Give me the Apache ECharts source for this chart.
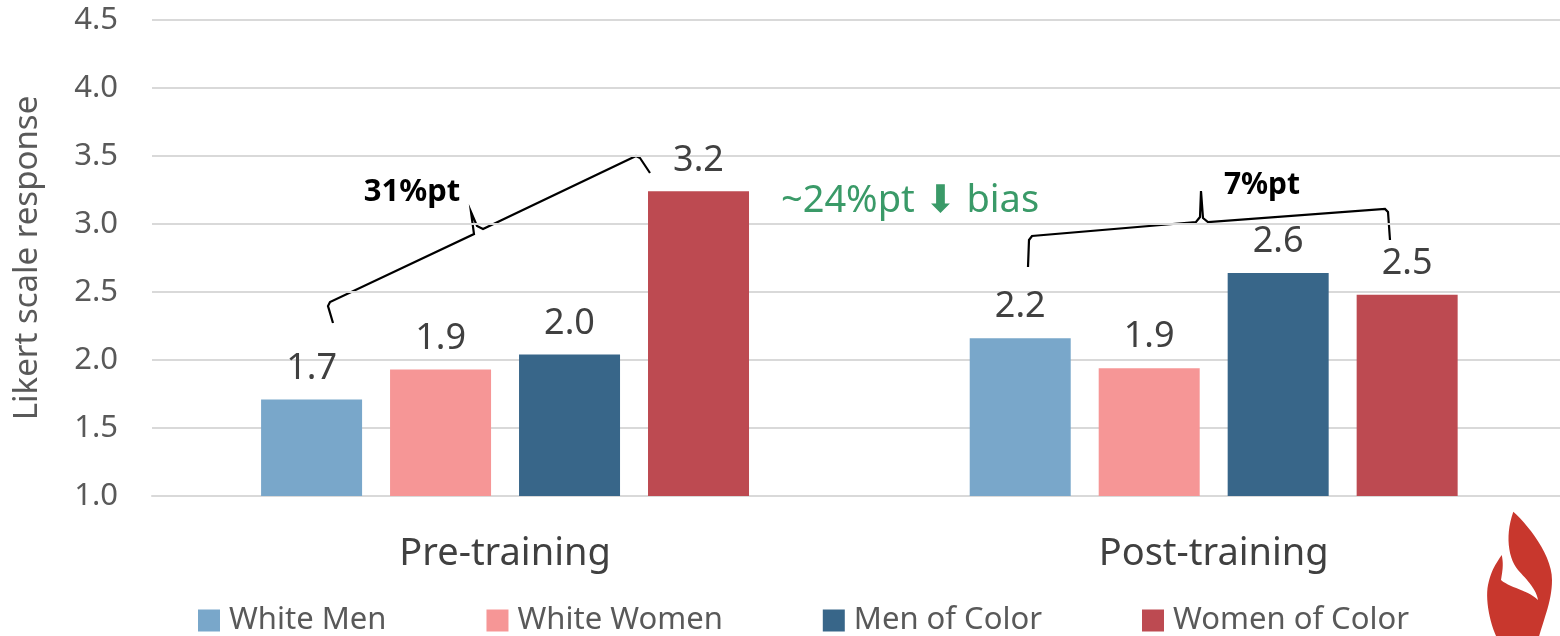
<!DOCTYPE html>
<html><head><meta charset="utf-8">
<script src="https://cdn.jsdelivr.net/npm/echarts@6/dist/echarts.min.js"></script>
<style>html,body{margin:0;padding:0;background:#fff}#c{width:1560px;height:636px}</style>
</head><body><div id="c"></div>
<script>
const categories = ['Pre-training', 'Post-training'];
const whiteMen = [1.71, 2.16];
const whiteWomen = [1.93, 1.94];
const menOfColor = [2.04, 2.64];
const womenOfColor = [3.24, 2.48];
const seriesNames = ['White Men', 'White Women', 'Men of Color', 'Women of Color'];
const seriesColors = ['#79a7ca', '#f69696', '#386689', '#bd4a51'];
const yTicks = [1.0, 1.5, 2.0, 2.5, 3.0, 3.5, 4.0, 4.5];

const FONT = '"Noto Sans", "DejaVu Sans", sans-serif';
const chart = echarts.init(document.getElementById('c'), null, {renderer: 'canvas'});
const allData = [whiteMen, whiteWomen, menOfColor, womenOfColor];

const series = allData.map((d, i) => ({
  name: seriesNames[i],
  type: 'bar',
  data: d.map((v, j) => [j, v]),
  barWidth: 101,
  barGap: '27.7%',
  itemStyle: {color: seriesColors[i]},
  label: {
    show: true, position: 'top', distance: 13,
    formatter: p => p.value[1].toFixed(1),
    fontFamily: FONT, fontSize: 36, color: '#404040'
  }
}));

// decorative flame logo: cubic segments sampled into a polygon
const flameStart = [1513.3, 511.7];
const flameSegs = [
  [[1528,525],[1552,555],[1552,580]],
  [[1552,600],[1545,615],[1538,640]],
  'L',
  [[1490,625],[1485,600],[1488,585]],
  [[1491,570],[1497,562],[1501.7,555]],
  [[1504,565],[1502,573],[1501,580]],
  [[1510,588],[1528,590],[1538,600]],
  [[1536,588],[1525,578],[1518,570]],
  [[1508,558],[1505,535],[1513.3,511.7]]
];
function flamePoints() {
  const pts = [flameStart];
  let cur = flameStart;
  flameSegs.forEach(s => {
    if (s === 'L') { cur = [1498, 640]; pts.push(cur); return; }
    for (let k = 1; k <= 14; k++) {
      const t = k / 14, u = 1 - t;
      const x = u*u*u*cur[0] + 3*u*u*t*s[0][0] + 3*u*t*t*s[1][0] + t*t*t*s[2][0];
      const y = u*u*u*cur[1] + 3*u*u*t*s[0][1] + 3*u*t*t*s[1][1] + t*t*t*s[2][1];
      pts.push([x, y]);
    }
    cur = s[2];
  });
  return pts;
}

chart.setOption({
  animation: false,
  grid: {left: 152, right: 0, top: 20, bottom: 140, containLabel: false},
  legend: {
    data: seriesNames, top: 600, left: 193, icon: 'rect',
    itemWidth: 22, itemHeight: 22, itemGap: 100,
    textStyle: {fontFamily: FONT, fontSize: 31, color: '#595959', padding: [0, 0, 0, 4]}
  },
  xAxis: {
    type: 'value', min: -0.4982, max: 1.4887,
    axisLine: {show: true, onZero: false, lineStyle: {color: '#d9d9d9', width: 2}},
    axisTick: {show: false},
    splitLine: {show: false},
    axisLabel: {fontFamily: FONT, fontSize: 38, color: '#404040', margin: 39,
      customValues: [0, 1], formatter: v => categories[Math.round(v)]}
  },
  yAxis: {
    type: 'value', min: 1, max: 4.5, interval: 0.5,
    name: 'Likert scale response', nameLocation: 'middle', nameGap: 108,
    nameTextStyle: {fontFamily: FONT, fontSize: 33, color: '#595959'},
    axisLine: {show: false}, axisTick: {show: false},
    axisLabel: {fontFamily: FONT, fontSize: 31, color: '#595959', margin: 34,
      formatter: v => v.toFixed(1)},
    splitLine: {lineStyle: {color: '#d9d9d9', width: 2}}
  },
  series: series,
  graphic: [
    {type: 'polyline', shape: {points: [[333,323],[328,306],[330,302],[474,234],[471,212],[477,226],[483,229],[636,156],[640,158],[650,173]]},
      style: {stroke: '#000', lineWidth: 2.2, fill: null}},
    {type: 'text', x: 412, y: 192, style: {text: '31%pt', fontFamily: FONT, fontSize: 31, fontWeight: 'bold', fill: '#000', align: 'center', verticalAlign: 'middle'}},
    {type: 'polyline', shape: {points: [[1028,267],[1029,240],[1032,236],[1196,222],[1200,217],[1201,191],[1203,218],[1208,222],[1385,209],[1388,212],[1390,240]]},
      style: {stroke: '#000', lineWidth: 2.2, fill: null}},
    {type: 'text', x: 1262, y: 185, style: {text: '7%pt', fontFamily: FONT, fontSize: 30, fontWeight: 'bold', fill: '#000', align: 'center', verticalAlign: 'middle'}},
    {type: 'text', x: 910, y: 201, style: {text: '~24%pt \u2B07 bias', fontFamily: FONT, fontSize: 38, fill: '#3a9a68', align: 'center', verticalAlign: 'middle'}},
    {type: 'polygon', shape: {points: flamePoints()}, style: {fill: '#c8372d'}}
  ]
});
</script></body></html>
